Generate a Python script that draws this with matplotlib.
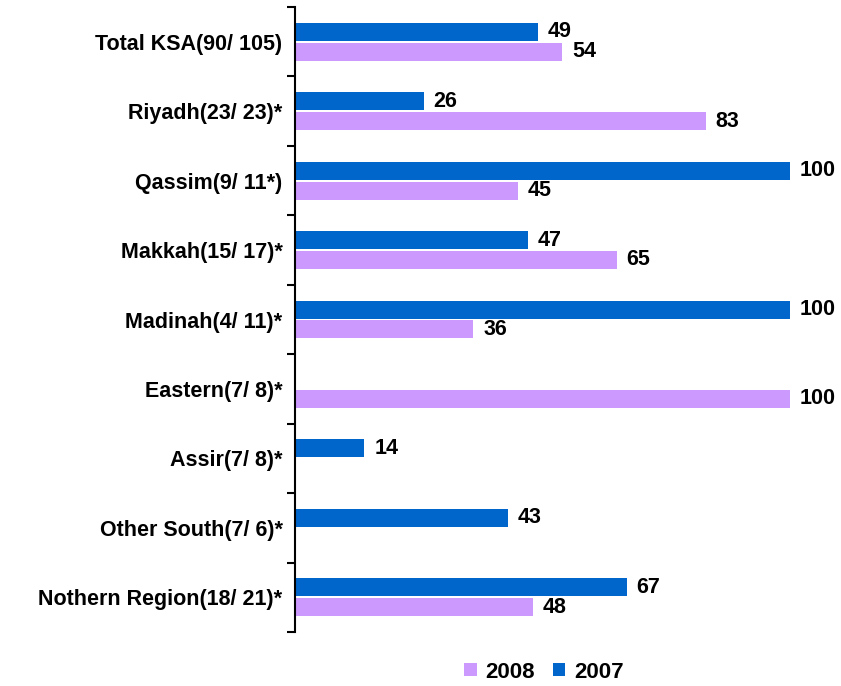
import numpy as np
from matplotlib import pyplot as plt

# data
regions = ["Total KSA(90/ 105)", "Riyadh(23/ 23)*", "Qassim(9/ 11*)", "Makkah(15/ 17)*",
           "Madinah(4/ 11)*", "Eastern(7/ 8)*", "Assir(7/ 8)*", "Other South(7/ 6)*",
           "Nothern Region(18/ 21)*"]
v2007 = [49, 26, 100, 47, 100, np.nan, 14, 43, 67]
v2008 = [54, 83, 45, 65, 36, 100, np.nan, np.nan, 48]

c2007 = "#0066CC"
c2008 = "#CC99FF"

plt.rcParams["font.family"] = ["Liberation Sans", "DejaVu Sans"]

fig = plt.figure(figsize=(8.41, 6.86), dpi=100)
ax = fig.add_axes([295 / 841, 1 - 632 / 686, 495 / 841, 625 / 686])

y = np.arange(len(regions))
h = 0.26
off = 0.143

ax.barh(y - off, v2007, height=h, color=c2007, label="2007")
ax.barh(y + off, v2008, height=h, color=c2008, label="2008")

# value labels
for yy, vals in [(y - off, v2007), (y + off, v2008)]:
    for yi, v in zip(yy, vals):
        if np.isnan(v):
            continue
        ax.text(v + 2, yi, str(v), va="center", ha="left", fontsize=15.5,
                fontweight="bold", clip_on=False)

ax.set_xlim(0, 100)
ax.set_ylim(len(regions) - 0.5, -0.5)

# category labels in the middle, tick marks at the boundaries
ax.set_yticks(np.arange(-0.5, len(regions), 1))
ax.set_yticklabels([])
ax.tick_params(axis="y", direction="out", length=6, width=1.5)
ax.set_yticks(y, minor=True)
ax.set_yticklabels(regions, minor=True, fontsize=15.5, fontweight="bold")
ax.tick_params(axis="y", which="minor", length=0, pad=9)

ax.set_xticks([])
for s in ["top", "right", "bottom"]:
    ax.spines[s].set_visible(False)
ax.spines["left"].set_linewidth(1.5)

handles, labels = ax.get_legend_handles_labels()
leg = fig.legend(handles[::-1], labels[::-1], loc="center", bbox_to_anchor=(544 / 841, 1 - 672 / 686),
                 ncol=2, frameon=False, prop={"size": 16, "weight": "bold"},
                 handlelength=0.55, handleheight=0.55, handletextpad=0.4, columnspacing=0.8)

plt.savefig("out.png", dpi=100)
